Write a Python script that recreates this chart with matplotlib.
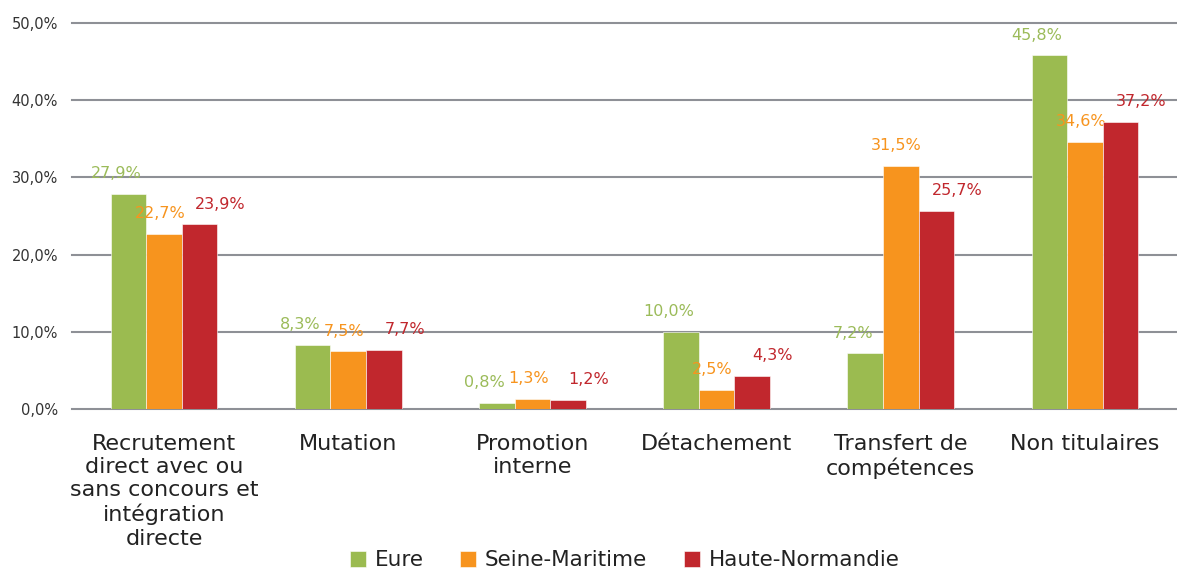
import matplotlib.pyplot as plt
import numpy as np

categories = ["Recrutement\ndirect avec ou\nsans concours et\nintégration\ndirecte",
              "Mutation", "Promotion\ninterne", "Détachement",
              "Transfert de\ncompétences", "Non titulaires"]
series = ["Eure", "Seine-Maritime", "Haute-Normandie"]
eure = [27.9, 8.3, 0.8, 10.0, 7.2, 45.8]
seine = [22.7, 7.5, 1.3, 2.5, 31.5, 34.6]
haute = [23.9, 7.7, 1.2, 4.3, 25.7, 37.2]
yticks = [0, 10, 20, 30, 40, 50]

colors = ["#9BBB50", "#F7941E", "#C1272D"]
label_colors = ["#9BBB59", "#F7941E", "#C1272D"]
label_dx = [-9, -3, 15]  # label offsets in points

plt.rcParams['font.family'] = ['DejaVu Sans']

fig = plt.figure(figsize=(11.77, 5.71), dpi=100)
ax = fig.add_axes([72 / 1177, 1 - 409 / 571, 1 - 72 / 1177, (409 - 23) / 571])

x = np.arange(len(categories))
w = 0.193
for i, (vals, name) in enumerate(zip([eure, seine, haute], series)):
    pos = x + (i - 1) * w
    ax.bar(pos, vals, w, color=colors[i], edgecolor="white", linewidth=0.4,
           label=name, zorder=3)
    for px, v in zip(pos, vals):
        ax.annotate(f"{v:.1f}%".replace(".", ","), (px, v), xytext=(label_dx[i], 9),
                    textcoords="offset points", ha="center", va="bottom",
                    fontsize=11.5, color=label_colors[i])

ax.set_xlim(-0.5, len(categories) - 0.5)
ax.set_ylim(0, 50)
ax.set_yticks(yticks)
ax.set_yticklabels([f"{t:.1f}%".replace(".", ",") for t in yticks], fontsize=10.5, color="#333333")
ax.yaxis.grid(True, color="#8E9096", linewidth=1.5, zorder=0)
for gl in ax.get_ygridlines():
    gl.set_clip_on(False)
ax.set_axisbelow(True)
for s in ax.spines.values():
    s.set_visible(False)
ax.tick_params(axis="y", length=0, pad=10)
ax.tick_params(axis="x", length=0, pad=18)
ax.set_xticks(x)
ax.set_xticklabels(categories, fontsize=16, color="#222222", va="top", linespacing=1.2)

ax.legend(loc="lower center", bbox_to_anchor=(0.5, -0.468), ncol=3, frameon=False,
          fontsize=15.5, handlelength=0.75, handleheight=0.75, columnspacing=1.7,
          handletextpad=0.4, labelcolor="#222222")

fig.savefig("out.png", dpi=100)
